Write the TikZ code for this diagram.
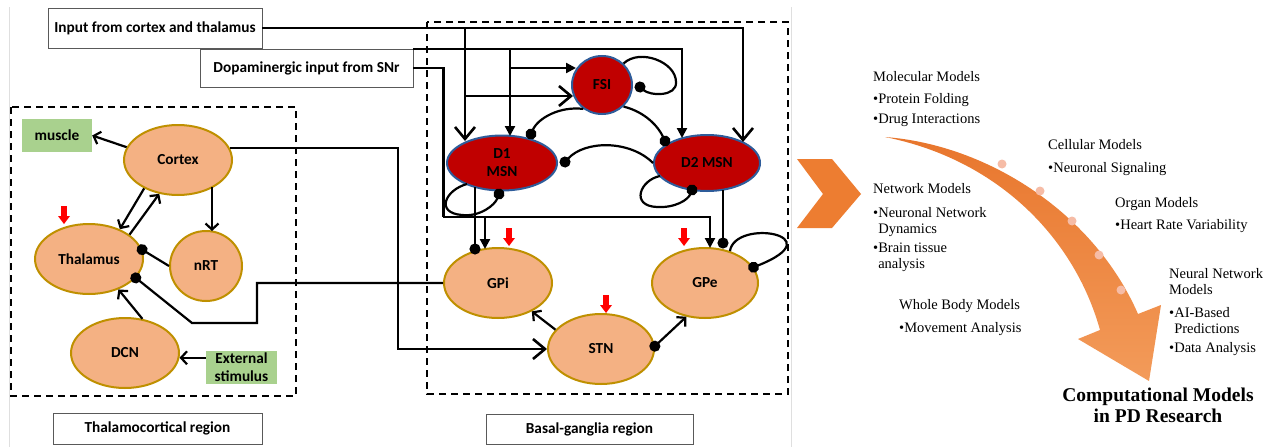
\documentclass[tikz,border=0pt]{standalone}
\usepackage{fontspec}
\setmainfont{Liberation Serif}
\newfontfamily\calfont{Carlito}
\usetikzlibrary{shapes.geometric,arrows.meta,calc}
\definecolor{nodeor}{HTML}{F4B183}
\definecolor{nodebd}{HTML}{BF9000}
\definecolor{msnred}{HTML}{C00000}
\definecolor{msnbd}{HTML}{2E5C9A}
\definecolor{grn}{HTML}{A9D18E}
\definecolor{chev}{HTML}{ED7D31}
\definecolor{arrtop}{HTML}{E8762D}
\definecolor{arrbot}{HTML}{F39B5A}
\definecolor{dotpink}{HTML}{F6BCA6}
\newcommand\lblfont{\fontsize{15.3}{18}\selectfont\calfont\bfseries}
\newcommand\rtfont{\fontsize{14.5}{16}\selectfont}
\tikzset{redarr/.pic={\fill[red] (-2.8,0) -- (2.8,0) -- (2.8,10) -- (6,10) -- (0,18) -- (-6,10) -- (-2.8,10) -- cycle;}}
\begin{document}
\begin{tikzpicture}[x=1pt,y=-1pt,
 orn/.style={ellipse,draw=nodebd,fill=nodeor,line width=2pt,inner sep=0pt,font=\lblfont},
 msn/.style={ellipse,draw=msnbd,fill=msnred,line width=2pt,inner sep=0pt,font=\lblfont,align=center},
 lbox/.style={draw=black!65,line width=0.8pt,fill=white,inner sep=0pt,font=\lblfont},
 gbox/.style={fill=grn,inner sep=0pt,font=\lblfont,align=center},
 wire/.style={line width=2.2pt},
 sarr/.style={-{Triangle[length=10pt,width=10pt]}},
 barb/.style={-{Straight Barb[length=6pt,width=13pt]}},
 bigbarb/.style={-{Straight Barb[length=12pt,width=20pt,line width=2.6pt]}},
 inh/.style={-{Circle[length=11pt]},shorten >=-5.5pt},
 regbox/.style={line width=2pt,dash pattern=on 7pt off 5pt},
 rt/.style={font=\rtfont,align=left,inner sep=0pt,anchor=north west},
]
\useasboundingbox (0,0) rectangle (1277,447);
\fill[white] (0,0) rectangle (1277,447);
\draw[gray!25,line width=0.8pt] (9,7) -- (9,447);
\draw[gray!25,line width=0.8pt] (791,7) -- (791,447);

% region boxes
\draw[regbox] (11,107) rectangle (296,396);
\draw[regbox] (427,22) rectangle (788,394);

% text boxes
\node[lbox,minimum width=214,minimum height=40] (inp) at (155,28) {Input from cortex and thalamus};
\node[lbox,minimum width=213,minimum height=38] (snr) at (306.5,68) {Dopaminergic input from SNr};
\node[lbox,minimum width=209,minimum height=31] (tcr) at (157.5,428.5) {Thalamocortical region};
\node[lbox,minimum width=207,minimum height=30] (bgr) at (589.5,429) {Basal-ganglia region};
\node[gbox,minimum width=70,minimum height=33] (muscle) at (57,135.5) {muscle};
\node[gbox,minimum width=71,minimum height=33] (ext) at (241.5,367.5) {External\\stimulus};

% thalamocortical nodes
\node[orn,minimum width=108,minimum height=70] (cortex) at (178,160) {Cortex};
\node[orn,minimum width=108,minimum height=70] (thal) at (89,259) {Thalamus};
\node[orn,minimum width=72,minimum height=70] (nrt) at (206,266) {nRT};
\node[orn,minimum width=108,minimum height=70] (dcn) at (125,353) {DCN};

% basal ganglia nodes
\node[msn,minimum width=110,minimum height=55] (d1) at (502,163) {D1\\MSN};
\node[msn,minimum width=106,minimum height=56] (d2) at (707,163) {D2 MSN};
\node[msn,minimum width=60,minimum height=58] (fsi) at (602,85) {FSI};
\node[orn,minimum width=108,minimum height=70] (gpi) at (498,283) {GPi};
\node[orn,minimum width=106,minimum height=70] (gpe) at (705,283) {GPe};
\node[orn,minimum width=106,minimum height=70] (stn) at (601,349) {STN};

% red markers
\pic at (64,206) {redarr};
\pic at (509,228) {redarr};
\pic at (684,228) {redarr};
\pic at (606,295) {redarr};

% thalamocortical connectors
\draw[wire,barb] (cortex.166) -- (muscle.east);
\draw[wire,barb] (cortex.220) -- (thal.44);
\draw[wire,barb] (thal.31) -- (cortex.241);
\draw[wire,barb] ($(cortex.center)+(34,27)$) -- ($(nrt.center)+(6,-35)$);
\draw[wire,inh] (nrt.west) -- (thal.10);
\draw[wire,barb] (dcn.63) -- (thal.-46);
\draw[wire,barb] (ext.west |- dcn.-5) -- (dcn.-5);
\draw[wire,inh] (gpi.west) -- ++(-186,0) -- ++(0,40) -- ++(-65,0) -- (thal.-22);
\draw[wire,bigbarb] (cortex.13) -| ($(stn.west)+(-149,0)$) -- (stn.west);

% basal ganglia coordinates
\coordinate (d2in) at ($(d2.center)+(36,-21)$);
\coordinate (d1in) at ($(d1.center)+(-37,-22)$);
\coordinate (fsiin) at ($(fsi.center)+(-29,11)$);
\coordinate (d2da) at ($(d2.center)+(-25,-25)$);
\coordinate (d1da) at ($(d1.center)+(8,-27)$);
\coordinate (fsida) at ($(fsi.center)+(-26,-17)$);
\coordinate (dj) at ($(snr.east)+(30,149)$);
\coordinate (gpeda) at ($(gpe.center)+(5,-35)$);
\coordinate (gpida) at ($(gpi.center)+(-13,-34)$);
\coordinate (d1b) at ($(d1.center)+(-27,24)$);
\coordinate (gpii) at ($(gpi.center)+(-23,-34)$);
\coordinate (d2b) at ($(d2.center)+(16,27)$);
\coordinate (gpei) at ($(gpe.center)+(18,-40)$);
\coordinate (d1fx) at ($(d1.center)+(29,-29)$);
\coordinate (d2fx) at ($(d2.center)+(-42,-22)$);
\coordinate (d1dx) at ($(d1.east)+(7,-1)$);
\coordinate (fsidot) at ($(fsi.east)+(7,2)$);
\coordinate (d1ls) at ($(d1.center)+(-35,21)$);
\coordinate (d1le) at ($(d1.center)+(-3,31)$);
\coordinate (d2ls) at ($(d2.center)+(-47,13)$);
\coordinate (d2le) at ($(d2.center)+(-15,27)$);

% basal ganglia connectors
\draw[wire,bigbarb] (inp.east) -| (d2in);
\draw[wire,bigbarb] (d1in |- inp.east) -- (d1in);
\draw[wire,bigbarb] (d1in |- fsiin) -- (fsiin);
\draw[wire,sarr] (snr.north east) -| (d2da);
\draw[wire,sarr] (d1da |- snr.north east) -- (d1da);
\draw[wire,sarr] (d1da |- fsida) -- (fsida);
\draw[wire] (snr.east) -| (dj);
\draw[wire,sarr] (dj) -| (gpeda);
\draw[wire,sarr] (gpida |- dj) -- (gpida);
\draw[wire,inh] (d1b) -- (gpii);
\draw[wire,inh] (d2b) -- (gpei);
\draw[wire,inh] (fsi.232) .. controls (560,106) and (538,118) .. (d1fx);
\draw[wire,inh] (fsi.-45) .. controls (645,112) and (658,126) .. (d2fx);
\draw[wire,inh] (d2.west) .. controls (630,140) and (585,140) .. (d1dx);
\draw[wire,inh] (fsi.45) .. controls (640,48) and (676,62) .. (676,82) .. controls (677,97) and (650,96) .. (fsidot);
\draw[wire,inh] (d1ls) .. controls (445,190) and (435,213) .. (462,215) .. controls (480,217) and (495,205) .. (d1le);
\draw[wire,inh] (d2ls) .. controls (640,180) and (630,206) .. (657,207) .. controls (675,208) and (688,200) .. (d2le);
\draw[wire,inh] (gpe.52) .. controls (735,218) and (835,235) .. (gpe.18);
\draw[wire,barb] (stn.157) -- (gpi.-40);
\draw[wire,{Circle[length=11pt]}-{Straight Barb[length=6pt,width=13pt]},shorten <=-5.5pt] (stn.3) -- (gpe.-119);

% right panel
\fill[chev] (797,159) -- (832,159) -- (861,194) -- (832,228) -- (797,228) -- (823,194) -- cycle;
\shade[top color=arrtop,bottom color=arrbot] (885,137) .. controls (990,145) and (1095,215) .. (1138,314) -- (1161,305) -- (1149,381) -- (1078,339) -- (1100,330) .. controls (1075,240) and (1000,160) .. (885,137) -- cycle;
\foreach \p in {(1002,164),(1040,191),(1072,221),(1099,255),(1121,290)}
  \fill[dotpink] \p circle (4.5);

\node[rt] (mol) at (873,71) {Molecular Models\\[6pt]\textbullet Protein Folding\\[4pt]\textbullet Drug Interactions};
\node[rt] (cel) at (1048,139) {Cellular Models\\[7pt]\textbullet Neuronal Signaling};
\node[rt] (net) at (873,183) {Network Models\\[8pt]\textbullet Neuronal Network\\\phantom{\textbullet}Dynamics\\[3pt]\textbullet Brain tissue\\\phantom{\textbullet}analysis};
\node[rt] (org) at (1115,197) {Organ Models\\[6pt]\textbullet Heart Rate Variability};
\node[rt] (nn) at (1169,268) {Neural Network\\Models\\[7pt]\textbullet AI-Based\\\phantom{\textbullet}Predictions\\[3pt]\textbullet Data Analysis};
\node[rt] (wb) at (899,299) {Whole Body Models\\[7pt]\textbullet Movement Analysis};
\node[font={\fontsize{19.5}{21}\selectfont\bfseries},align=center,inner sep=0pt] (title) at (1158,405) {Computational Models\\in PD Research};
\end{tikzpicture}
\end{document}
